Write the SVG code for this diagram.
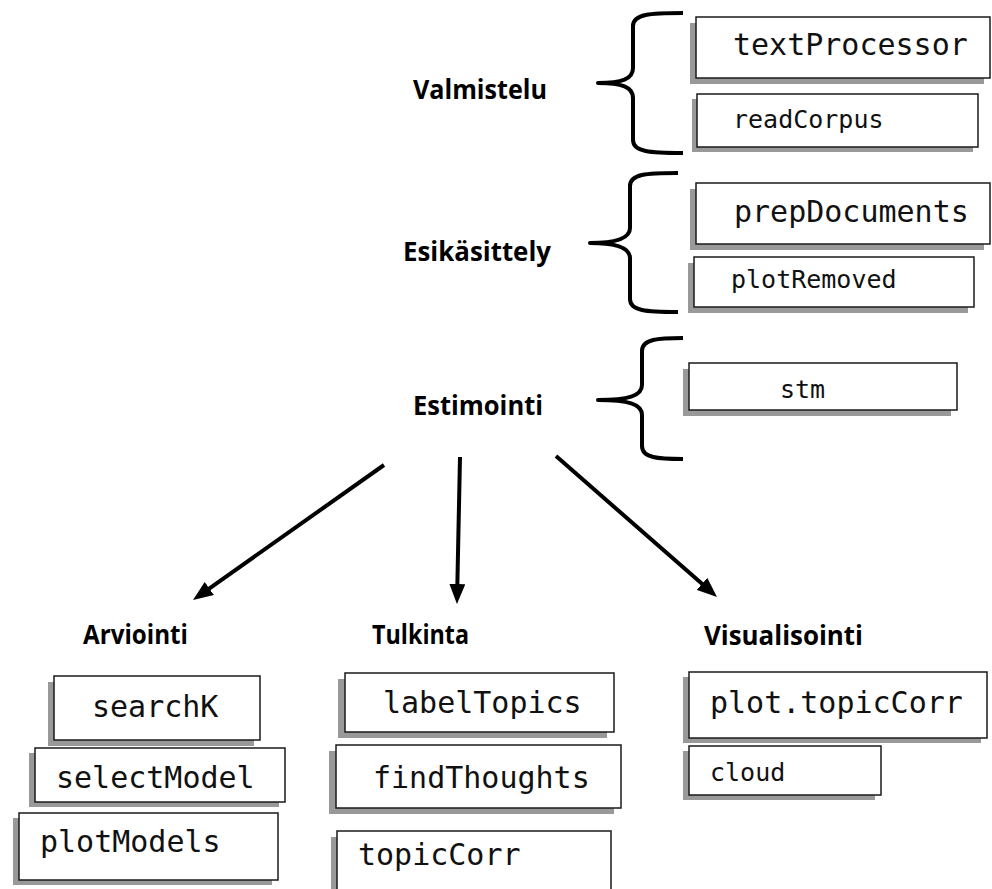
<svg xmlns="http://www.w3.org/2000/svg" width="992" height="889" viewBox="0 0 992 889">
<style>
.bg{fill:#ffffff}
.box{fill:#ffffff;stroke:#1a1a1a;stroke-width:1.5}
.sh{fill:#999999}
.mono{font-family:"DejaVu Sans Mono","Liberation Mono",monospace;fill:#111}
.big{font-size:30px}
.small{font-size:25px}
.lbl{font-family:"Open Sans","Noto Sans","Liberation Sans",sans-serif;font-weight:bold;font-size:26px;fill:#000;font-variant-ligatures:none}
.brace{fill:none;stroke:#000;stroke-width:4;stroke-linecap:butt;stroke-linejoin:round}
.arr{fill:none;stroke:#000;stroke-width:4}
</style>
<defs>
<marker id="ah" markerUnits="userSpaceOnUse" viewBox="0 0 20 16" markerWidth="20" markerHeight="16" refX="8" refY="8" orient="auto">
<path d="M0,0 L20,8 L0,16 z" fill="#000"/>
</marker>
</defs>
<rect class="bg" x="0" y="0" width="992" height="889"/>

<g id="braces">
<path class="brace" d="M683,13 C650,13 633,14 633,26 L633,68 C633,79 622,83 598,83 C622,83 633,87 633,98 L633,140 C633,152 650,153 683,153"/>
<path class="brace" d="M678,173 C646,173 630,174 630,186 L630,228 C630,239 614,243 590,243 C614,243 630,247 630,258 L630,299 C630,311 646,312 678,312"/>
<path class="brace" d="M683,338 C658,338 642,339 642,351 L642,385 C642,396 628,400 598,400 C628,400 642,404 642,415 L642,446 C642,458 658,459 683,459"/>
</g>

<g id="labels">
<text id="valmistelu" class="lbl" x="413" y="99" textLength="134" lengthAdjust="spacingAndGlyphs">Valmistelu</text>
<text id="esikasittely" class="lbl" x="403" y="261" textLength="148" lengthAdjust="spacingAndGlyphs">Esikäsittely</text>
<text id="estimointi" class="lbl" x="413" y="415" textLength="130" lengthAdjust="spacingAndGlyphs">Estimointi</text>
<text id="arviointi" class="lbl" x="83" y="644" textLength="105" lengthAdjust="spacingAndGlyphs">Arviointi</text>
<text id="tulkinta" class="lbl" x="372" y="644" textLength="97" lengthAdjust="spacingAndGlyphs">Tulkinta</text>
<text id="visualisointi" class="lbl" x="704" y="645" textLength="159" lengthAdjust="spacingAndGlyphs">Visualisointi</text>
</g>

<g id="textProcessor">
<rect class="sh" x="690" y="23" width="294" height="61"/>
<rect class="box" x="696" y="17" width="294" height="61"/>
<text class="mono big" x="733" y="55">textProcessor</text>
</g>
<g id="readCorpus">
<rect class="sh" x="692" y="99" width="281" height="53"/>
<rect class="box" x="697" y="94" width="281" height="53"/>
<text class="mono small" x="733" y="128">readCorpus</text>
</g>
<g id="prepDocuments">
<rect class="sh" x="690" y="189" width="294" height="61"/>
<rect class="box" x="696" y="183" width="294" height="61"/>
<text class="mono big" x="734" y="222">prepDocuments</text>
</g>
<g id="plotRemoved">
<rect class="sh" x="688" y="263" width="280" height="50"/>
<rect class="box" x="694" y="257" width="280" height="50"/>
<text class="mono small" x="731" y="288">plotRemoved</text>
</g>
<g id="stm">
<rect class="sh" x="683" y="369" width="268" height="47"/>
<rect class="box" x="689" y="363" width="268" height="47"/>
<text class="mono small" x="780" y="398">stm</text>
</g>

<g id="searchK">
<rect class="sh" x="48" y="682" width="206" height="64"/>
<rect class="box" x="54" y="676" width="206" height="64"/>
<text class="mono big" x="92" y="717">searchK</text>
</g>
<g id="selectModel">
<rect class="sh" x="29" y="753" width="250" height="54"/>
<rect class="box" x="35" y="748" width="250" height="54"/>
<text class="mono big" x="56" y="788">selectModel</text>
</g>
<g id="plotModels">
<rect class="sh" x="13" y="818" width="259" height="67"/>
<rect class="box" x="19" y="813" width="259" height="67"/>
<text class="mono big" x="40" y="852">plotModels</text>
</g>

<g id="labelTopics">
<rect class="sh" x="338" y="679" width="269" height="59"/>
<rect class="box" x="345" y="673" width="269" height="59"/>
<text class="mono big" x="383" y="713">labelTopics</text>
</g>
<g id="findThoughts">
<rect class="sh" x="329" y="751" width="285" height="63"/>
<rect class="box" x="336" y="745" width="285" height="63"/>
<text class="mono big" x="373" y="788">findThoughts</text>
</g>
<g id="topicCorr">
<rect class="sh" x="331" y="837" width="274" height="70"/>
<rect class="box" x="337" y="831" width="274" height="70"/>
<text class="mono big" x="358" y="865">topicCorr</text>
</g>

<g id="plotTopicCorr">
<rect class="sh" x="683" y="677" width="298" height="66"/>
<rect class="box" x="689" y="672" width="298" height="66"/>
<text class="mono big" x="710" y="713">plot.topicCorr</text>
</g>
<g id="cloud">
<rect class="sh" x="683" y="751" width="192" height="49"/>
<rect class="box" x="689" y="746" width="192" height="49"/>
<text class="mono small" x="710" y="781">cloud</text>
</g>

<g id="connectors">
<path class="arr" d="M384,465 L202.8,593.1" marker-end="url(#ah)"/>
<path class="arr" d="M460,457 L457.2,592" marker-end="url(#ah)"/>
<path class="arr" d="M556,456 L708,589.1" marker-end="url(#ah)"/>
</g>
</svg>
